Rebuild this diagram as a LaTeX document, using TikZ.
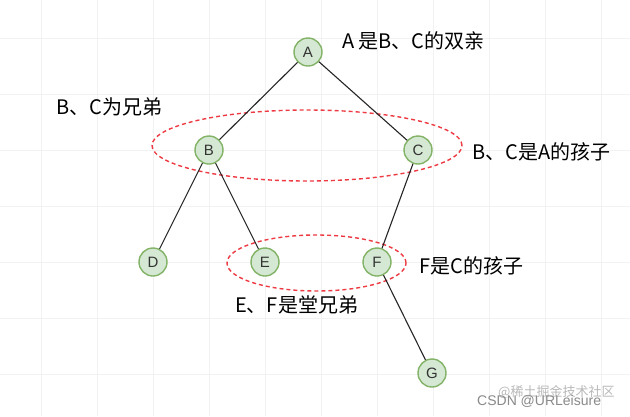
\documentclass[tikz,border=0pt]{standalone}
\usepackage{fontspec}
\usetikzlibrary{shapes.geometric}
\setmainfont{Noto Sans CJK SC}
\newfontfamily\latinf{Liberation Sans}
\definecolor{nodefill}{HTML}{D5E8D4}
\definecolor{nodeline}{HTML}{82B366}
\definecolor{gridc}{HTML}{F2F2F2}
\definecolor{redd}{HTML}{EE3B43}
\definecolor{wm}{HTML}{8A8A8A}
\begin{document}
\begin{tikzpicture}[x=1pt,y=-1pt,
  tnode/.style={circle,draw=nodeline,fill=nodefill,line width=1.4pt,minimum size=28pt,inner sep=0pt,font=\latinf\fontsize{15}{15}\selectfont,text=black!80},
  edge/.style={draw=black!85,line width=1.1pt},
  grp/.style={draw=redd,line width=1.4pt,dash pattern=on 4pt off 3pt},
  lbl/.style={font=\fontsize{20}{21}\selectfont,text=black,inner sep=0pt},
  wmk/.style={font=\fontsize{13}{13}\selectfont,text=wm,inner sep=0pt}]
\useasboundingbox (0,0) rectangle (630,416);
\fill[white] (0,0) rectangle (630,416);
\foreach \gx in {41,97,153,209,265,321,377,433,489,545,601}
  \draw[gridc,line width=0.6pt] (\gx,0) -- (\gx,416);
\foreach \gy in {38,94,150,206,262,318,374}
  \draw[gridc,line width=0.6pt] (0,\gy) -- (630,\gy);
% group outlines
\node[grp,ellipse,minimum width=310pt,minimum height=71pt,inner sep=0pt] (g1) at (307,145.5) {};
\node[grp,ellipse,minimum width=179pt,minimum height=56pt,inner sep=0pt] (g2) at (316.5,263) {};
% nodes
\node[tnode] (A) at (308,52) {A};
\node[tnode] (B) at (209,150) {B};
\node[tnode] (C) at (418,150) {C};
\node[tnode] (D) at (153,262) {D};
\node[tnode] (E) at (265,262) {E};
\node[tnode] (F) at (377,262) {F};
\node[tnode] (G) at (432,373) {G};
% edges
\draw[edge] (A) -- (B);
\draw[edge] (A) -- (C);
\draw[edge] (B) -- (D);
\draw[edge] (B) -- (E);
\draw[edge] (C) -- (F);
\draw[edge] (F) -- (G);
% labels
\node[lbl,anchor=west] (tA) at (342,41) {A 是B、C的双亲};
\node[lbl,anchor=west] (tBC) at (56,107) {B、C为兄弟};
\node[lbl,anchor=west] (tBCA) at (472,152) {B、C是A的孩子};
\node[lbl,anchor=west] (tF) at (419,266) {F是C的孩子};
\node[lbl,anchor=west] (tEF) at (235,305) {E、F是堂兄弟};
% watermark
\node[wmk,anchor=west,text=wm!60] (w2) at (498,392) {@稀土掘金技术社区};
\node[wmk,anchor=west] (w1) at (477,401) {\latinf\fontsize{14}{14}\selectfont CSDN @URLeisure};
\end{tikzpicture}
\end{document}
